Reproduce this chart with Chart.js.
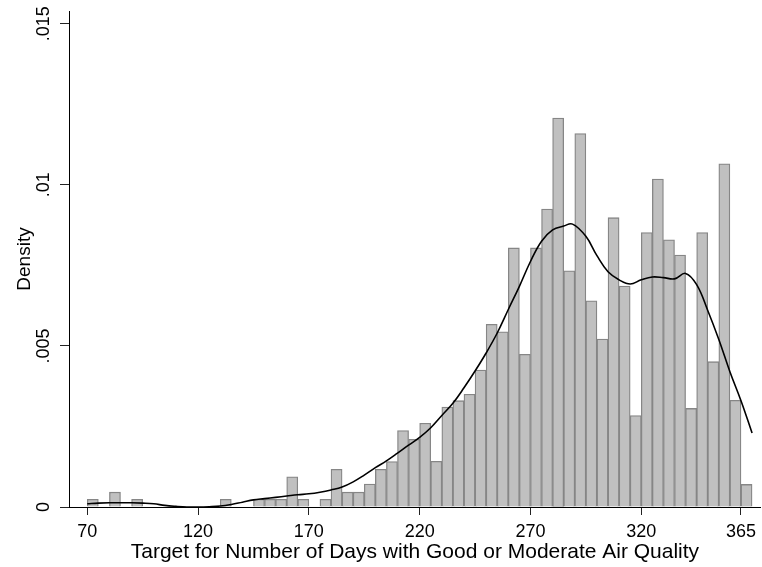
<!DOCTYPE html>
<html>
<head>
<meta charset="utf-8">
<script src="https://cdn.jsdelivr.net/npm/chart.js@4.4.1/dist/chart.umd.min.js"></script>
<style>
  html, body { margin: 0; padding: 0; background: #fff; }
  #wrap { width: 762px; height: 567px; }
</style>
</head>
<body>
<div id="wrap"><canvas id="hist" width="762" height="567"></canvas></div>
<script>
// histogram bins (left edges, width 5) and their densities
const binWidth = 5;
const binLeft = [70, 75, 80, 85, 90, 95, 100, 105, 110, 115,
  120, 125, 130, 135, 140, 145, 150, 155, 160, 165,
  170, 175, 180, 185, 190, 195, 200, 205, 210, 215,
  220, 225, 230, 235, 240, 245, 250, 255, 260, 265,
  270, 275, 280, 285, 290, 295, 300, 305, 310, 315,
  320, 325, 330, 335, 340, 345, 350, 355, 360, 365];
const binDensity = [0.00024, 0, 0.00046, 0, 0.00024, 0, 0, 0, 0, 0,
  0, 0, 0.00024, 0, 0, 0.00024, 0.00024, 0.00024, 0.00094, 0.00024,
  0, 0.00024, 0.00117, 0.00046, 0.00046, 0.00071, 0.00117, 0.00141, 0.00237, 0.0021,
  0.0026, 0.00142, 0.0031, 0.0033, 0.0035, 0.00425, 0.00567, 0.00544, 0.00804, 0.00474,
  0.00804, 0.00925, 0.01207, 0.00733, 0.01159, 0.0064, 0.00521, 0.00898, 0.00686, 0.00284,
  0.00852, 0.01018, 0.00829, 0.00782, 0.00306, 0.00852, 0.00451, 0.01065, 0.00331, 0.0007];

// kernel density curve
const kdeX = [70, 75, 80, 85, 90, 95, 100, 105, 110, 115,
  120, 125, 130, 135, 140, 145, 150, 155, 160, 165,
  170, 175, 180, 185, 190, 195, 200, 205, 210, 215,
  220, 225, 230, 235, 240, 245, 250, 255, 260, 265,
  270, 275, 280, 285, 289, 295, 300, 305, 310, 315,
  320, 325, 330, 335, 340, 345, 350, 355, 360, 365, 370];
const kdeY = [0.0001, 0.00012, 0.00013, 0.00013, 0.00013, 0.00012, 0.0001, 0.00005, 0.00002, 0,
  0, 0.00001, 0.00003, 0.00008, 0.00015, 0.00022, 0.00026, 0.0003, 0.00034, 0.00038,
  0.00041, 0.00046, 0.00053, 0.00062, 0.00078, 0.00099, 0.00122, 0.00143, 0.00167, 0.00192,
  0.00216, 0.00246, 0.00284, 0.00322, 0.0037, 0.00422, 0.00478, 0.0054, 0.00613, 0.00685,
  0.00762, 0.00825, 0.0086, 0.00872, 0.00878, 0.0084, 0.0078, 0.0073, 0.00705, 0.00692,
  0.00705, 0.00714, 0.00712, 0.00708, 0.00725, 0.0069, 0.0061, 0.0052, 0.0042, 0.0033, 0.0023];

const xTicks = [70, 120, 170, 220, 270, 320, 365];
const yTicks = [0, 0.005, 0.01, 0.015];
const yTickLabels = ['0', '.005', '.01', '.015'];

const FONT = '"Liberation Sans", Arial, sans-serif';

// Stata draws the y labels turned on their side
const rotatedYLabels = {
  id: 'rotatedYLabels',
  afterDraw(chart) {
    const ctx = chart.ctx;
    const y = chart.scales.y;
    ctx.save();
    ctx.fillStyle = '#000';
    ctx.font = '18px ' + FONT;
    ctx.textAlign = 'center';
    ctx.textBaseline = 'middle';
    yTicks.forEach((v, i) => {
      ctx.save();
      ctx.translate(44, y.getPixelForValue(v));
      ctx.rotate(-Math.PI / 2);
      ctx.fillText(yTickLabels[i], 0, 0);
      ctx.restore();
    });
    ctx.restore();
  }
};

new Chart(document.getElementById('hist'), {
  type: 'bar',
  data: {
    datasets: [{
      type: 'line',
      data: kdeX.map((x, i) => ({ x, y: kdeY[i] })),
      borderColor: '#000',
      borderWidth: 1.6,
      pointRadius: 0,
      tension: 0.4,
      fill: false,
      order: 0
    }, {
      type: 'bar',
      data: binLeft.map((x, i) => ({ x: x + binWidth / 2, y: binDensity[i] || null })),
      backgroundColor: 'rgb(192,192,192)',
      borderColor: 'rgb(134,134,134)',
      borderWidth: 1.3,
      borderSkipped: 'bottom',
      barPercentage: 1,
      categoryPercentage: 1,
      order: 1
    }]
  },
  options: {
    responsive: false,
    animation: false,
    devicePixelRatio: 1,
    layout: { padding: { top: 11, right: 0, left: 0, bottom: 0 } },
    plugins: { legend: { display: false }, tooltip: { enabled: false } },
    scales: {
      x: {
        type: 'linear',
        min: 61.76,
        max: 373.96,
        offset: false,
        afterBuildTicks: s => { s.ticks = xTicks.map(v => ({ value: v })); },
        afterFit: s => { s.height = 60; },
        grid: { display: true, drawOnChartArea: false, drawTicks: true, tickLength: 8, color: '#222', offset: false },
        border: { display: true, color: '#000', width: 1 },
        ticks: { color: '#000', font: { family: FONT, size: 18 }, padding: 6, maxRotation: 0, autoSkip: false },
        title: { display: true, text: 'Target for Number of Days with Good or Moderate Air Quality',
          color: '#000', font: { family: FONT, size: 21 }, padding: { top: 0, bottom: 2 } }
      },
      y: {
        type: 'linear',
        min: 0,
        max: 0.015394,
        afterBuildTicks: s => { s.ticks = yTicks.map(v => ({ value: v })); },
        afterFit: s => { s.width = 69; },
        grid: { display: true, drawOnChartArea: false, drawTicks: true, tickLength: 9, color: '#222' },
        border: { display: true, color: '#000', width: 1 },
        ticks: { display: false },
        title: { display: true, text: 'Density', color: '#000',
          font: { family: FONT, size: 19 }, padding: { top: 13, bottom: 0 } }
      }
    }
  },
  plugins: [rotatedYLabels]
});
</script>
</body>
</html>
